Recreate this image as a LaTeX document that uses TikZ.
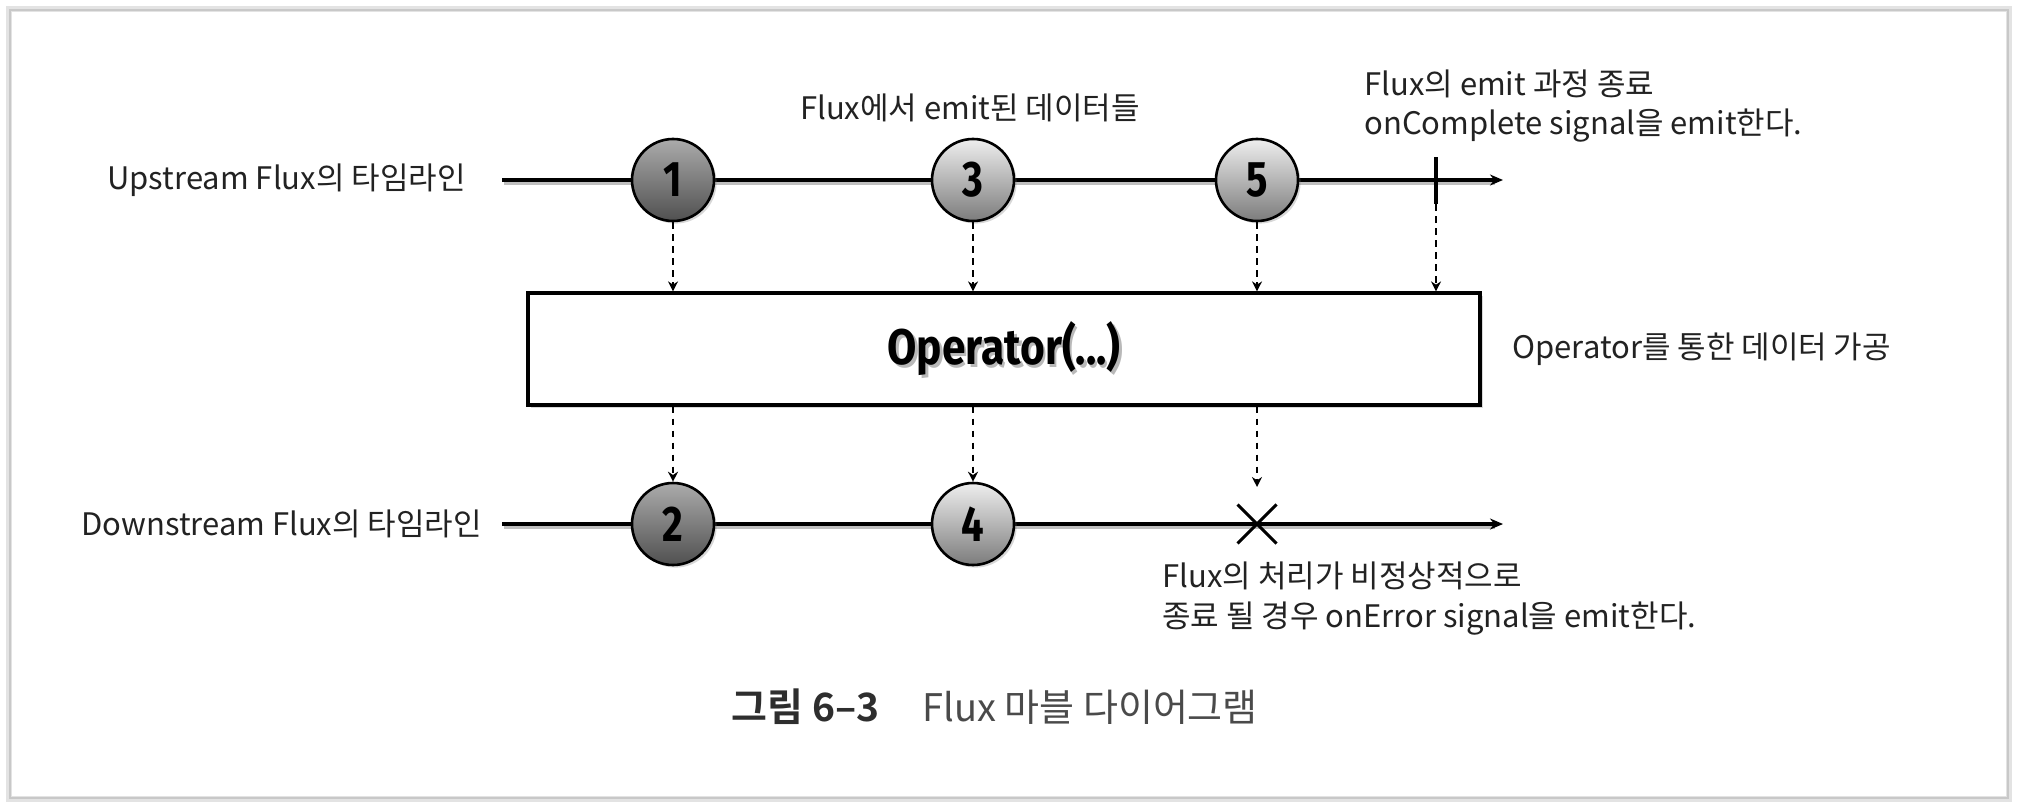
\documentclass[tikz,border=0pt]{standalone}
\usepackage{fontspec}
\usepackage{graphicx}
\usetikzlibrary{arrows.meta,shadows,shapes.misc}
\setmainfont{Noto Sans CJK KR}[BoldFont={Noto Sans CJK KR Bold}]
\newfontfamily\opfont{Fira Sans Bold}[FakeStretch=0.85]
\newfontfamily\numfont{Fira Sans Bold}[FakeStretch=0.8]
\definecolor{txt}{HTML}{222222}
\definecolor{capdark}{HTML}{2E2E2E}
\definecolor{caplight}{HTML}{4A4A4A}
\definecolor{dtop}{HTML}{ABABAB}
\definecolor{dbot}{HTML}{505050}
\definecolor{ltop}{HTML}{EEEEEE}
\definecolor{lbot}{HTML}{7C7C7C}
\definecolor{framec}{HTML}{C8C8C8}
\begin{document}
\begin{tikzpicture}[x=0.5pt,y=-0.5pt,
  lbl/.style={font=\fontsize{15.5}{19.5}\selectfont, text=txt, inner sep=0pt, align=left},
  ball/.style={circle, draw=black, line width=1.3pt, minimum size=41pt, inner sep=0pt,
    font=\numfont\fontsize{25}{25}\selectfont,
    drop shadow={shadow xshift=1.3pt, shadow yshift=-1.3pt, opacity=0.3}},
  darkball/.style={ball, top color=dtop, bottom color=dbot},
  lightball/.style={ball, top color=ltop, bottom color=lbot},
  timeline/.style={line width=1.7pt, -{Stealth[length=6.5pt,width=5.5pt]}},
  dasharrow/.style={line width=1.05pt, dash pattern=on 3.4pt off 2.6pt, -{Stealth[length=5pt,width=5pt]}},
  opbox/.style={draw=black, line width=1.6pt, fill=white, minimum width=476pt, minimum height=56pt,
    drop shadow={shadow xshift=1.3pt, shadow yshift=-1.3pt, opacity=0.3}},
  optext/.style={font=\opfont\fontsize{25}{25}\selectfont, inner sep=0pt}
]
\path[use as bounding box, fill=white] (0,0) rectangle (2018,808);
% frame
\draw[framec!50, line width=3pt] (9,9) rectangle (2009,799);
\draw[framec, line width=0.9pt] (10,10) rectangle (2008,798);

% upstream timeline
\coordinate (us) at (502,180);
\coordinate (ue) at (1503,180);
\draw[black!25, line width=1.7pt] ([shift={(2,3)}]us) -- ([shift={(-8,3)}]ue);
\draw[timeline] (us) -- (ue);
\node[lbl, anchor=west] (ulabel) at (107,180) {Upstream Flux의 타임라인};

% downstream timeline
\coordinate (ds) at (502,524);
\coordinate (de) at (1503,524);
\draw[black!25, line width=1.7pt] ([shift={(2,3)}]ds) -- ([shift={(-8,3)}]de);
\draw[timeline] (ds) -- (de);
\node[lbl, anchor=west] (dlabel) at (81,524) {Downstream Flux의 타임라인};

% operator box
\node[opbox] (op) at (1004,349) {};
\node[optext, text=gray!55] (opshadow) at (1006.5,352) {Operator(...)};
\node[optext] (optxt) at (1004,349) {Operator(...)};
\node[lbl, anchor=west] (oplabel) at (1512,349) {Operator를 통한 데이터 가공};

% upstream balls
\node[darkball] (u1) at (673,180) {1};
\node[lightball] (u3) at (973,180) {3};
\node[lightball] (u5) at (1257,180) {5};
\coordinate (tk) at (1436,180);
\coordinate (tkt) at (1436,157);
\coordinate (tkb) at (1436,204);
\draw[line width=2pt] (tkt) -- (tkb);

% downstream balls
\node[darkball] (d2) at (673,524) {2};
\node[lightball] (d4) at (973,524) {4};
\node[cross out, draw=black, line width=1.5pt, minimum size=18pt, inner sep=0pt] (xx) at (1257,524) {};
\coordinate (xa) at (1257,487);

% dashed arrows
\draw[dasharrow] (u1.south) -- (u1.south |- op.north);
\draw[dasharrow] (u3.south) -- (u3.south |- op.north);
\draw[dasharrow] (u5.south) -- (u5.south |- op.north);
\draw[dasharrow] (tkb) -- (tkb |- op.north);
\draw[dasharrow] (d2.north |- op.south) -- (d2.north);
\draw[dasharrow] (d4.north |- op.south) -- (d4.north);
\draw[dasharrow] (xa |- op.south) -- (xa);

% annotations
\node[lbl, anchor=center] (emitlabel) at (970,108) {Flux에서 emit된 데이터들};
\node[lbl, anchor=west] (complabel) at (1364,106) {Flux의 emit 과정 종료\\onComplete signal을 emit한다.};
\node[lbl, anchor=west, font=\fontsize{15.5}{20}\selectfont] (errlabel) at (1162,599) {Flux의 처리가 비정상적으로\\종료 될 경우 onError signal을 emit한다.};

% caption
\node[anchor=west, inner sep=0pt, text=capdark, font=\fontsize{19.5}{21}\selectfont\bfseries] (cap1) at (731,707) {그림 6–3};
\node[anchor=west, inner sep=0pt, text=caplight, font=\fontsize{19}{21}\selectfont] (cap2) at (922,707) {Flux 마블 다이어그램};
\end{tikzpicture}
\end{document}
